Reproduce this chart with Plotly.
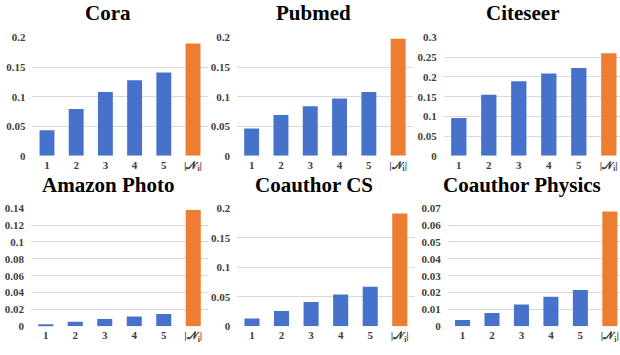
import plotly.graph_objects as go

categories = ["1", "2", "3", "4", "5", "|𝒩<sub>i</sub>|"]

titles = ["Cora", "Pubmed", "Citeseer", "Amazon Photo", "Coauthor CS", "Coauthor Physics"]

cora = [0.043, 0.079, 0.108, 0.128, 0.141, 0.190]
pubmed = [0.046, 0.069, 0.084, 0.097, 0.108, 0.198]
citeseer = [0.096, 0.155, 0.189, 0.209, 0.223, 0.260]
amazon_photo = [0.0023, 0.0055, 0.0088, 0.0115, 0.0147, 0.138]
coauthor_cs = [0.013, 0.026, 0.041, 0.054, 0.067, 0.191]
coauthor_physics = [0.0038, 0.0079, 0.0129, 0.0175, 0.0215, 0.068]

series = [cora, pubmed, citeseer, amazon_photo, coauthor_cs, coauthor_physics]
y_max = [0.2, 0.2, 0.3, 0.14, 0.2, 0.07]
y_dtick = [0.05, 0.05, 0.05, 0.02, 0.05, 0.01]

W, H = 620, 355
# plot-area pixel boxes (x0, x1, ytop, ybottom)
boxes = [
    (32.4, 207.6, 32.7, 155.0),
    (237.0, 412.9, 32.7, 155.0),
    (443.8, 620.0, 32.7, 155.0),
    (31.0, 208.0, 209.3, 331.5),
    (237.2, 414.6, 209.3, 331.5),
    (447.8, 620.0, 209.3, 331.5),
]
spacing = [29.2, 29.3, 30.0, 29.5, 29.56, 29.46]
title_pos = [(108, 7), (313, 7), (522, 7), (108, 185), (314, 185), (522, 185)]

BLUE = "#4672CB"
ORANGE = "#ED7D31"
FONT = "Liberation Serif"

fig = go.Figure()
for i, vals in enumerate(series):
    n = "" if i == 0 else str(i + 1)
    x0, x1, yt, yb = boxes[i]
    colors = [BLUE] * 5 + [ORANGE]
    fig.add_trace(go.Bar(
        x=list(range(len(categories))), y=vals,
        marker=dict(color=colors, line=dict(width=0)),
        width=0.51,
        xaxis="x" + n, yaxis="y" + n, showlegend=False,
    ))
    xr = (x1 - x0) / spacing[i]
    fig.layout["xaxis" + n] = dict(
        domain=[x0 / W, x1 / W], anchor="y" + n,
        range=[-0.5, -0.5 + xr],
        tickmode="array", tickvals=list(range(len(categories))), ticktext=categories,
        showgrid=False, zeroline=False, showline=False, ticks="",
        ticklabelstandoff=1,
        tickfont=dict(family=FONT, size=11, color="#404040", weight="bold"),
    )
    fig.layout["yaxis" + n] = dict(
        domain=[1 - yb / H, 1 - yt / H], anchor="x" + n,
        range=[0, y_max[i]], dtick=y_dtick[i], tick0=0,
        showgrid=True, gridcolor="#D9D9D9", gridwidth=1,
        zeroline=False, showline=False, ticks="",
        ticklabelstandoff=6,
        tickfont=dict(family=FONT, size=11, color="#404040", weight="bold"),
    )
    tx, ty = title_pos[i]
    fig.add_annotation(
        text="<b>" + titles[i] + "</b>", x=tx / W, y=1 - ty / H,
        xref="paper", yref="paper", showarrow=False,
        xanchor="center", yanchor="middle",
        font=dict(family=FONT, size=21, color="black"),
    )

fig.update_layout(
    width=W, height=H, margin=dict(l=0, r=0, t=0, b=0),
    paper_bgcolor="white", plot_bgcolor="white",
    bargap=0.49,
)
fig.write_html(
    "out.html",
    config={"displayModeBar": False},
    post_script="document.body.style.margin='0';document.body.style.overflow='hidden';",
)
